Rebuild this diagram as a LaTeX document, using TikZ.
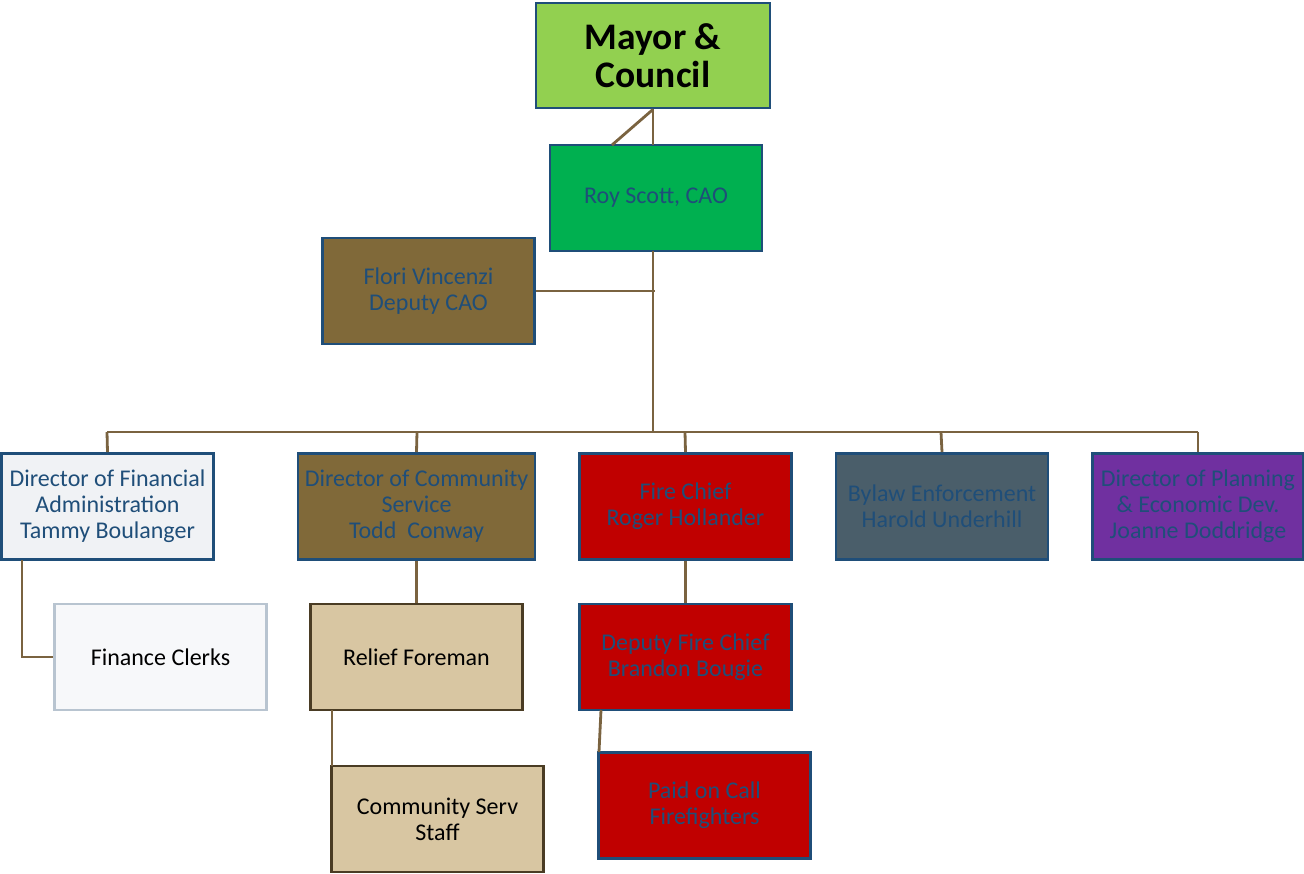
\documentclass[tikz,border=0pt]{standalone}
\usepackage{fontspec}
\setmainfont{Carlito}
\definecolor{bord}{HTML}{1F4E79}
\definecolor{txtb}{HTML}{1F4E79}
\definecolor{conn}{HTML}{7A6340}
\definecolor{mayorfill}{HTML}{92D050}
\definecolor{caofill}{HTML}{00B050}
\definecolor{brownfill}{HTML}{806939}
\definecolor{finfill}{HTML}{F0F2F5}
\definecolor{clerkfill}{HTML}{F7F8FA}
\definecolor{clerkbord}{HTML}{B8C4D0}
\definecolor{firefill}{HTML}{C00000}
\definecolor{bylawfill}{HTML}{4A5E6A}
\definecolor{planfill}{HTML}{7030A0}
\definecolor{tanfill}{HTML}{D8C6A2}
\definecolor{tanbord}{HTML}{4A3C24}
\tikzset{
  box/.style={draw=bord, line width=2.8pt, minimum width=212pt, minimum height=106pt,
    align=center, inner sep=1pt, text=txtb, font=\fontsize{24}{26}\selectfont},
  conline/.style={draw=conn, line width=2.8pt},
}
\begin{document}
\begin{tikzpicture}[x=1pt,y=-1pt]
\useasboundingbox (0,0) rectangle (1304,874);
% nodes
\node[box, fill=mayorfill, minimum width=234pt, minimum height=105pt, text=black,
  font=\bfseries\fontsize{37.5}{38}\selectfont] (mayor) at (653,55.5) {Mayor \&\\Council};
\node[box, fill=caofill] (cao) at (656,198) {Roy Scott, CAO};
\node[box, fill=brownfill] (dep) at (428.5,291) {Flori Vincenzi\\Deputy CAO};
\node[box, fill=finfill] (fin) at (107.5,506.5) {Director of Financial\\Administration\\Tammy Boulanger};
\node[box, fill=brownfill, minimum width=237pt] (comm) at (416.5,506.5) {Director of Community\\Service\\Todd\ \ Conway};
\node[box, fill=firefill] (fire) at (685.5,506.5) {Fire Chief\\Roger Hollander};
\node[box, fill=bylawfill] (bylaw) at (942,506.5) {Bylaw Enforcement\\Harold Underhill};
\node[box, fill=planfill, minimum width=211pt] (plan) at (1198,506.5) {Director of Planning\\\& Economic Dev.\\Joanne Doddridge};
\node[box, fill=clerkfill, draw=clerkbord, text=black] (clerk) at (160.5,657) {Finance Clerks};
\node[box, fill=tanfill, draw=tanbord, text=black] (relief) at (416.5,657) {Relief Foreman};
\node[box, fill=tanfill, draw=tanbord, text=black] (staff) at (437.5,819) {Community Serv\\Staff};
\node[box, fill=firefill] (dfire) at (685.5,657) {Deputy Fire Chief\\Brandon Bougie};
\node[box, fill=firefill] (paid) at (704.5,805.5) {Paid on Call\\Firefighters};
% coordinates
\coordinate (busL) at (107,432);
\coordinate (busR) at (1198,432);
\coordinate (busC) at (653,432);
\coordinate (depJ) at (655,291);
\coordinate (finC) at (22,657);
% connectors
\draw[conline] (mayor.south) -- (653,145);
\draw[conline] (mayor.south) -- (612,145);
\draw[conline] (653,251) -- (busC);
\draw[conline] (dep.east) -- (depJ);
\draw[conline] (busL) -- (busR);
\draw[conline] (busL) -- (fin.north);
\draw[conline] (417,432) -- (comm.north);
\draw[conline] (685,432) -- (fire.north);
\draw[conline] (941,432) -- (bylaw.north);
\draw[conline] (busR) -- (plan.north);
\draw[conline] (22,560) -- (finC) -- (clerk.west);
\draw[conline] (comm.south) -- (relief.north);
\draw[conline] (332,710) -- (332,766);
\draw[conline] (fire.south) -- (dfire.north);
\draw[conline] (601,710) -- (599,752);
\end{tikzpicture}
\end{document}
